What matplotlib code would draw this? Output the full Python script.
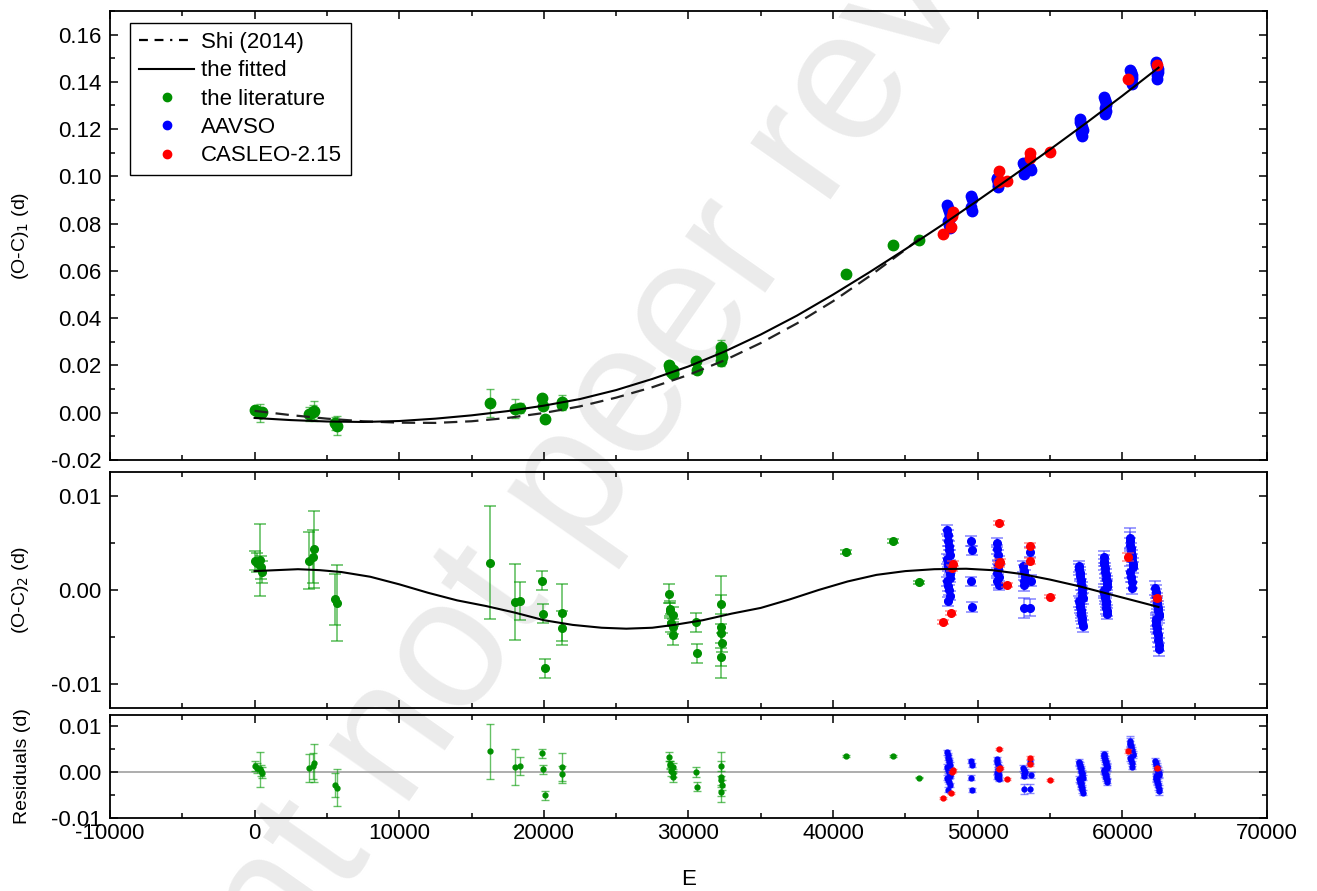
import numpy as np
import matplotlib.pyplot as plt
from matplotlib.ticker import MultipleLocator, FormatStrFormatter
from matplotlib.lines import Line2D

plt.rcParams['font.family'] = ['Liberation Sans', 'DejaVu Sans']
plt.rcParams['axes.unicode_minus'] = False
plt.rcParams['font.size'] = 16

# ---------------------------------------------------------------------------
# Data
# ---------------------------------------------------------------------------
# literature times of minimum: epoch, (O-C)1, (O-C)2, residual, error
lit_E = [0, 200, 350, 420, 500, 3730, 4030, 4100, 5580, 5720,
         16250, 17980, 18320, 19890, 19940, 20050, 21250, 21280,
         28650, 28700, 28750, 28930, 28800, 28900, 28950, 30540, 30560,
         32270, 32280, 32260, 32290, 32275, 40860, 44140, 45910]
lit_oc1 = [0.0010, 0.0008, 0.0000, -0.0002, 0.0003, -0.0004, 0.0003, 0.0008, -0.0045, -0.0054,
           0.0041, 0.0017, 0.0020, 0.0063, 0.0028, -0.0028, 0.0045, 0.0031,
           0.0204, 0.0190, 0.0188, 0.0182, 0.0173, 0.0170, 0.0162, 0.0218, 0.0182,
           0.0278, 0.0253, 0.0246, 0.0236, 0.0221, 0.0587, 0.0710, 0.0731]
lit_oc2 = [0.0031, 0.0029, 0.0032, 0.0024, 0.0019, 0.0031, 0.0035, 0.0043, -0.0010, -0.0014,
           0.0029, -0.0013, -0.0012, 0.0010, -0.0025, -0.0083, -0.0024, -0.0040,
           -0.0004, -0.0020, -0.0022, -0.0026, -0.0035, -0.0039, -0.0048, -0.0034, -0.0067,
           -0.0015, -0.0039, -0.0046, -0.0056, -0.0071, 0.0040, 0.0052, 0.0008]
lit_res = [0.0013, 0.0009, 0.0006, 0.0003, -0.0002, 0.0009, 0.0013, 0.0020, -0.0028, -0.0034,
           0.0045, 0.0011, 0.0013, 0.0041, 0.0006, -0.0051, 0.0011, -0.0005,
           0.0033, 0.0017, 0.0015, 0.0011, 0.0002, -0.0002, -0.0011, 0.0000, -0.0032,
           0.0013, -0.0011, -0.0018, -0.0028, -0.0043, 0.0034, 0.0035, -0.0012]
lit_err = [0.0010, 0.0010, 0.0038, 0.0012, 0.0012, 0.0030, 0.0028, 0.0041, 0.0027, 0.0040,
           0.0060, 0.0040, 0.0020, 0.0010, 0.0010, 0.0010, 0.0030, 0.0018,
           0.0010, 0.0008, 0.0008, 0.0008, 0.0010, 0.0008, 0.0010, 0.0010, 0.0010,
           0.0010, 0.0054, 0.0010, 0.0010, 0.0010, 0.0002, 0.0002, 0.0002]

# AAVSO times of minimum (middle and bottom panels)
aavso_E = [47880, 47920, 47960, 48000, 48040, 48080, 47900, 47940, 47980, 48020, 48060, 48100,
           47910, 47970, 48030, 48090, 47950,
           49550, 49580, 49560, 49590,
           51300, 51350, 51400, 51450, 51380, 51420, 51330, 51470, 51360, 51440,
           53150, 53200, 53250, 53180, 53230, 53650, 53700, 53200, 53650,
           57000, 57030, 57060, 57090, 57120, 57150, 57180, 57210, 57240, 57270,
           57020, 57050, 57080, 57110, 57140, 57170, 57200, 57230, 57260,
           58700, 58730, 58760, 58790, 58820, 58850, 58880, 58910, 58940, 58970,
           58720, 58750, 58780, 58810, 58840, 58870, 58900, 58930, 58960,
           60500, 60530, 60560, 60590, 60620, 60650, 60680, 60710, 60740, 60520, 60580, 60640, 60700,
           62280, 62310, 62340, 62370, 62400, 62430, 62460, 62490, 62520, 62550,
           62300, 62330, 62360, 62390, 62420, 62450, 62480, 62510, 62540]
aavso_oc2 = [0.0064, 0.0058, 0.0052, 0.0047, 0.0042, 0.0037, 0.0033, 0.0029, 0.0025, 0.0021, 0.0017, 0.0013,
             0.0009, 0.0004, 0.0000, -0.0006, -0.0012,
             0.0052, 0.0042, 0.0009, -0.0018,
             0.0050, 0.0043, 0.0037, 0.0031, 0.0026, 0.0022, 0.0018, 0.0014, 0.0010, 0.0005,
             0.0025, 0.0020, 0.0015, 0.0010, 0.0005, 0.0040, 0.0010, -0.0019, -0.0019,
             0.0025, 0.0022, 0.0018, 0.0015, 0.0011, 0.0006, 0.0002, -0.0002, -0.0006, -0.0009,
             -0.0012, -0.0015, -0.0018, -0.0021, -0.0024, -0.0027, -0.0030, -0.0034, -0.0038,
             0.0035, 0.0031, 0.0027, 0.0023, 0.0019, 0.0016, 0.0012, 0.0009, 0.0006, 0.0003,
             0.0000, -0.0003, -0.0006, -0.0009, -0.0012, -0.0015, -0.0019, -0.0022, -0.0025,
             0.0055, 0.0052, 0.0048, 0.0044, 0.0040, 0.0036, 0.0032, 0.0028, 0.0024, 0.0019, 0.0014, 0.0008, 0.0002,
             0.0002, -0.0002, -0.0006, -0.0010, -0.0013, -0.0016, -0.0019, -0.0022, -0.0025, -0.0028,
             -0.0031, -0.0034, -0.0037, -0.0040, -0.0044, -0.0048, -0.0053, -0.0058, -0.0063]
aavso_res = [0.0043, 0.0037, 0.0031, 0.0026, 0.0021, 0.0016, 0.0012, 0.0008, 0.0004, 0.0000, -0.0004, -0.0008,
             -0.0012, -0.0017, -0.0021, -0.0028, -0.0038,
             0.0024, 0.0015, -0.0012, -0.0039,
             0.0028, 0.0022, 0.0016, 0.0011, 0.0006, 0.0002, -0.0002, -0.0006, -0.0010, -0.0015,
             0.0009, 0.0005, 0.0000, -0.0004, -0.0008, 0.0022, -0.0006, -0.0036, -0.0036,
             0.0022, 0.0019, 0.0015, 0.0012, 0.0008, 0.0003, -0.0001, -0.0005, -0.0009, -0.0012,
             -0.0015, -0.0018, -0.0021, -0.0024, -0.0027, -0.0030, -0.0034, -0.0039, -0.0045,
             0.0040, 0.0036, 0.0032, 0.0028, 0.0024, 0.0021, 0.0017, 0.0014, 0.0011, 0.0008,
             0.0005, 0.0002, -0.0001, -0.0004, -0.0007, -0.0010, -0.0014, -0.0018, -0.0022,
             0.0068, 0.0064, 0.0060, 0.0056, 0.0052, 0.0048, 0.0044, 0.0040, 0.0036, 0.0031, 0.0026, 0.0019, 0.0012,
             0.0024, 0.0020, 0.0016, 0.0012, 0.0009, 0.0006, 0.0003, 0.0000, -0.0003, -0.0006,
             -0.0009, -0.0012, -0.0015, -0.0018, -0.0022, -0.0026, -0.0031, -0.0036, -0.0042]
aavso_err = [0.0005] * 17 + [0.0005] * 4 + [0.0005, 0.0005, 0.0005, 0.0005, 0.0005, 0.0005, 0.0005,
                                            0.0012, 0.0005, 0.0005] + \
            [0.0006, 0.0006, 0.0006, 0.0006, 0.0006, 0.0005, 0.0006, 0.0011, 0.0009] + \
            [0.0006] * 19 + [0.0006] * 19 + [0.0011, 0.0009, 0.0007] + [0.0006] * 10 + [0.0007] * 19

# AAVSO points in the top panel
aavso_top_E = [47900, 47950, 48000, 48050, 48100, 47930, 48030, 48080,
               49550, 49580, 49560, 49590,
               51300, 51350, 51400, 51450, 51380, 51420,
               53150, 53200, 53250, 53650, 53700, 53200,
               57050, 57100, 57150, 57200, 57250, 57120, 57180,
               58750, 58800, 58850, 58900, 58780, 58870, 58820,
               60550, 60600, 60650, 60700, 60580, 60680,
               62300, 62350, 62400, 62450, 62500, 62380, 62420]
aavso_top_oc1 = [0.0880, 0.0866, 0.0852, 0.0838, 0.0824, 0.0810, 0.0795, 0.0780,
                 0.0918, 0.0905, 0.0872, 0.0853,
                 0.0995, 0.0988, 0.0978, 0.0970, 0.0962, 0.0955,
                 0.1058, 0.1050, 0.1042, 0.1035, 0.1028, 0.1012,
                 0.1244, 0.1232, 0.1220, 0.1207, 0.1195, 0.1183, 0.1172,
                 0.1336, 0.1325, 0.1312, 0.1300, 0.1288, 0.1276, 0.1265,
                 0.1450, 0.1440, 0.1428, 0.1416, 0.1402, 0.1390,
                 0.1486, 0.1476, 0.1465, 0.1453, 0.1440, 0.1428, 0.1414]

# CASLEO-2.15 times of minimum
cas_E = [47590, 48120, 48280, 48250, 51500, 51550, 51450, 52020, 53650, 53600, 55010, 60380, 62400]
cas_oc1 = [0.0756, 0.0787, 0.0848, 0.0834, 0.1024, 0.0981, 0.0975, 0.0979, 0.1097, 0.1076, 0.1104, 0.1414, 0.1471]
cas_oc2 = [-0.0034, -0.0024, 0.0028, 0.0023, 0.0071, 0.0030, 0.0027, 0.0005, 0.0047, 0.0031, -0.0007, 0.0035, -0.0009]
cas_res = [-0.0056, -0.0046, 0.0004, 0.0000, 0.0051, 0.0009, 0.0007, -0.0015, 0.0031, 0.0017, -0.0018, 0.0046, 0.0008]
cas_err = [0.0002, 0.0002, 0.0003, 0.0003, 0.0002, 0.0003, 0.0003, 0.0002, 0.0003, 0.0003, 0.0002, 0.0004, 0.0003]

# model curves
fit_E = [0, 2500, 5000, 7500, 10000, 12500, 15000, 17500, 20000, 22500, 25000, 27500, 30000,
         32500, 35000, 37500, 40000, 42500, 45000, 47500, 50000, 52500, 55000, 57500, 60000, 62500]
fit_oc1 = [-0.0022, -0.0031, -0.0037, -0.0039, -0.0035, -0.0025, -0.0011, 0.0007, 0.0030, 0.0058,
           0.0096, 0.0143, 0.0196, 0.0259, 0.0331, 0.0411, 0.0500, 0.0594, 0.0692, 0.0793,
           0.0898, 0.1005, 0.1114, 0.1226, 0.1341, 0.1460]
shi_E = [0, 2500, 5000, 7500, 10000, 12500, 15000, 17500, 20000, 22500, 25000, 27500, 30000,
         32500, 35000, 37500, 40000, 42500, 45000, 46000]
shi_oc1 = [0.0008, -0.0010, -0.0025, -0.0036, -0.0042, -0.0043, -0.0036, -0.0022, -0.0001, 0.0027,
           0.0064, 0.0108, 0.0160, 0.0222, 0.0295, 0.0378, 0.0472, 0.0577, 0.0690, 0.0738]
ltte_E = [0, 1500, 3000, 4500, 6000, 8000, 10000, 12000, 14000, 16000, 18000, 20000, 22000, 24000,
          25700, 27500, 29000, 31000, 33000, 35000, 37000, 39000, 41000, 43000, 45000, 47000,
          49200, 51000, 53000, 55000, 57000, 59000, 61000, 62500]
ltte_oc2 = [0.0020, 0.0021, 0.0022, 0.0021, 0.0019, 0.0014, 0.0006, -0.0003, -0.0011, -0.0017,
            -0.0024, -0.0032, -0.0037, -0.0040, -0.0041, -0.0040, -0.0037, -0.0032, -0.0025, -0.0019,
            -0.0010, 0.0000, 0.0009, 0.0016, 0.0020, 0.0022, 0.00225, 0.0021, 0.0017, 0.0011,
            0.0004, -0.0004, -0.0012, -0.0018]

GREEN = '#009000'
BLUE = '#0000ff'
RED = '#ff0000'
GREEN_BAR = (0.0, 0.6, 0.0, 0.6)
BLUE_BAR = (0.25, 0.25, 1.0, 0.6)
RED_BAR = (1.0, 0.3, 0.3, 0.6)

# ---------------------------------------------------------------------------
# Figure
# ---------------------------------------------------------------------------
fig = plt.figure(figsize=(13.17, 8.91), dpi=100)
ax1 = fig.add_axes([0.0835, 0.4837, 0.8785, 0.504])
ax2 = fig.add_axes([0.0835, 0.2054, 0.8785, 0.2649], sharex=ax1)
ax3 = fig.add_axes([0.0835, 0.0819, 0.8785, 0.1156], sharex=ax1)

# watermark behind everything
fig.text(0.445, 0.477, 'Preprint not peer reviewed', fontsize=134, color='#ebebeb',
         rotation=55, ha='center', va='center', rotation_mode='anchor', zorder=-1)

for ax in (ax1, ax2, ax3):
    ax.set_facecolor('none')
    ax.tick_params(which='both', direction='in', top=True, right=True, labelsize=16)
    ax.tick_params(which='major', length=6, width=1.1)
    ax.tick_params(which='minor', length=3.5, width=1.1)
    ax.tick_params(axis='y', which='major', pad=6)
    ax.xaxis.set_major_locator(MultipleLocator(10000))
    ax.xaxis.set_minor_locator(MultipleLocator(5000))
    for s in ax.spines.values():
        s.set_linewidth(1.3)

# top panel: (O-C)1
ax1.plot(shi_E, shi_oc1, color='#222222', lw=1.6, dashes=(6, 3.5), zorder=5)
ax1.plot(fit_E, fit_oc1, color='black', lw=1.5, zorder=6)
ax1.errorbar(lit_E, lit_oc1, yerr=lit_err, fmt='o', ms=7.5, color=GREEN, ecolor=GREEN_BAR,
             elinewidth=1, capsize=3, capthick=1, zorder=3)
ax1.plot(aavso_top_E, aavso_top_oc1, 'o', ms=7.5, color=BLUE, zorder=3)
ax1.plot(cas_E, cas_oc1, 'o', ms=7.5, color=RED, zorder=4)
ax1.set_xlim(-10000, 70000)
ax1.set_ylim(-0.02, 0.17)
ax1.yaxis.set_major_locator(MultipleLocator(0.02))
ax1.yaxis.set_minor_locator(MultipleLocator(0.01))
ax1.yaxis.set_major_formatter(FormatStrFormatter('%.2f'))
ax1.set_ylabel('(O-C)$_1$ (d)', fontsize=14)
ax1.tick_params(labelbottom=False)

handles = [
    Line2D([], [], color='black', lw=1.6, dashes=(4, 3, 4, 3, 1, 3)),
    Line2D([], [], color='black', lw=1.5),
    Line2D([], [], ls='none', marker='o', ms=6, color=GREEN),
    Line2D([], [], ls='none', marker='o', ms=6, color=BLUE),
    Line2D([], [], ls='none', marker='o', ms=6, color=RED),
]
labels = ['Shi (2014)', 'the fitted', 'the literature', 'AAVSO', 'CASLEO-2.15']
leg = ax1.legend(handles, labels, loc='upper left', bbox_to_anchor=(0.0173, 0.973),
                 borderaxespad=0, frameon=True, fancybox=False, edgecolor='black',
                 framealpha=1, fontsize=16, handlelength=2.5, labelspacing=0.33,
                 borderpad=0.4, handletextpad=0.3)
leg.get_frame().set_linewidth(1.0)

# middle panel: (O-C)2
ax2.plot(ltte_E, ltte_oc2, color='black', lw=1.5, zorder=6)
ax2.errorbar(lit_E, lit_oc2, yerr=lit_err, fmt='o', ms=5.5, color=GREEN, ecolor=GREEN_BAR,
             elinewidth=1.2, capsize=4, capthick=1.2, zorder=3)
ax2.errorbar(aavso_E, aavso_oc2, yerr=aavso_err, fmt='o', ms=5.5, color=BLUE, ecolor=BLUE_BAR,
             elinewidth=1.2, capsize=4, capthick=1.2, zorder=3)
ax2.errorbar(cas_E, cas_oc2, yerr=cas_err, fmt='o', ms=5.5, color=RED, ecolor=RED_BAR,
             elinewidth=1.2, capsize=4, capthick=1.2, zorder=4)
ax2.set_ylim(-0.0125, 0.0125)
ax2.yaxis.set_major_locator(MultipleLocator(0.01))
ax2.yaxis.set_minor_locator(MultipleLocator(0.005))
ax2.yaxis.set_major_formatter(FormatStrFormatter('%.2f'))
ax2.set_ylabel('(O-C)$_2$ (d)', fontsize=14)
ax2.tick_params(labelbottom=False)

# bottom panel: residuals
ax3.axhline(0, color='#a0a0a0', lw=1.2, zorder=1)
ax3.errorbar(lit_E, lit_res, yerr=lit_err, fmt='o', ms=3.5, color=GREEN, ecolor=GREEN_BAR,
             elinewidth=1, capsize=3, capthick=1, zorder=3)
ax3.errorbar(aavso_E, aavso_res, yerr=aavso_err, fmt='o', ms=3.5, color=BLUE, ecolor=BLUE_BAR,
             elinewidth=1, capsize=3, capthick=1, zorder=3)
ax3.errorbar(cas_E, cas_res, yerr=cas_err, fmt='o', ms=3.5, color=RED, ecolor=RED_BAR,
             elinewidth=1, capsize=3, capthick=1, zorder=4)
ax3.set_ylim(-0.01, 0.0124)
ax3.yaxis.set_major_locator(MultipleLocator(0.01))
ax3.yaxis.set_minor_locator(MultipleLocator(0.005))
ax3.yaxis.set_major_formatter(FormatStrFormatter('%.2f'))
ax3.set_ylabel('Residuals (d)', fontsize=14)
ax3.set_xlabel('E', fontsize=16, labelpad=18)

for ax in (ax1, ax2, ax3):
    ax.yaxis.set_label_coords(-0.068, 0.5)

fig.savefig('out.png', dpi=100)
